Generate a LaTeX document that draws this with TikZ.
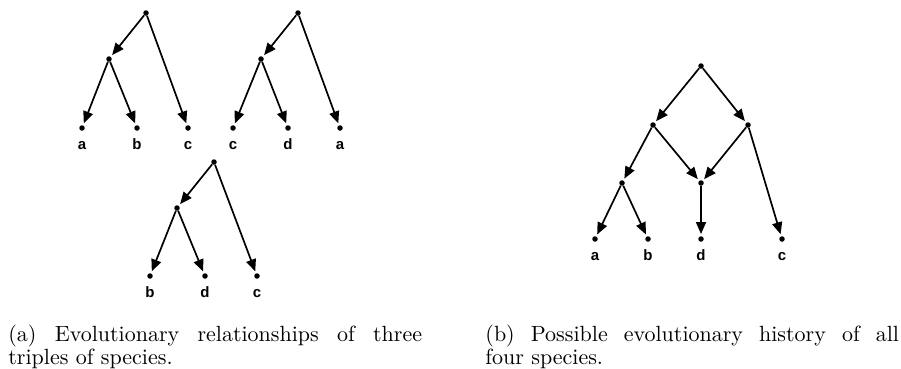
\documentclass[tikz,border=0pt]{standalone}
\usepackage{fontspec}
\newfontfamily\labelfont{Liberation Sans}
\usetikzlibrary{arrows.meta}
\begin{document}
\begin{tikzpicture}[x=1pt,y=-1pt,
  vtx/.style={circle,fill=black,inner sep=0pt,minimum size=5.5pt},
  edge/.style={line width=1.7pt,-{Triangle[length=12pt,width=10pt]},shorten >=2pt},
  leaflab/.style={font=\labelfont\bfseries\fontsize{15}{15}\selectfont,anchor=base},
  captext/.style={anchor=north west,inner sep=0pt,align=justify,text width=188pt,
    scale=2.2,transform shape,font=\fontsize{10}{10.45}\selectfont}]
\useasboundingbox (0,0) rectangle (901,368);

% first triple: ((a,b),c)
\node[vtx] (r1) at (146,13) {};
\node[vtx] (i1) at (109,59) {};
\node[vtx] (a1) at (82,128) {};
\node[vtx] (b1) at (137,128) {};
\node[vtx] (c1) at (188,128) {};
\draw[edge] (r1) -- (i1);
\draw[edge] (r1) -- (c1);
\draw[edge] (i1) -- (a1);
\draw[edge] (i1) -- (b1);
\node[leaflab] at (82,149) {a};
\node[leaflab] at (137,149) {b};
\node[leaflab] at (188,149) {c};

% second triple: ((c,d),a)
\node[vtx] (r2) at (298,13) {};
\node[vtx] (i2) at (261,59) {};
\node[vtx] (c2) at (233,128) {};
\node[vtx] (d2) at (288,128) {};
\node[vtx] (a2) at (340,128) {};
\draw[edge] (r2) -- (i2);
\draw[edge] (r2) -- (a2);
\draw[edge] (i2) -- (c2);
\draw[edge] (i2) -- (d2);
\node[leaflab] at (233,149) {c};
\node[leaflab] at (288,149) {d};
\node[leaflab] at (340,149) {a};

% third triple: ((b,d),c)
\node[vtx] (r3) at (214,162) {};
\node[vtx] (i3) at (177,208) {};
\node[vtx] (b3) at (150,276) {};
\node[vtx] (d3) at (205,276) {};
\node[vtx] (c3) at (257,276) {};
\draw[edge] (r3) -- (i3);
\draw[edge] (r3) -- (c3);
\draw[edge] (i3) -- (b3);
\draw[edge] (i3) -- (d3);
\node[leaflab] at (150,297) {b};
\node[leaflab] at (205,297) {d};
\node[leaflab] at (257,297) {c};

% network for all four species
\node[vtx] (rt) at (701,66) {};
\node[vtx] (lf) at (653,125) {};
\node[vtx] (rg) at (748,125) {};
\node[vtx] (ab) at (622,183) {};
\node[vtx] (hy) at (701,183) {};
\node[vtx] (la) at (595,239) {};
\node[vtx] (lb) at (648,239) {};
\node[vtx] (ld) at (701,239) {};
\node[vtx] (lc) at (782,239) {};
\draw[edge] (rt) -- (lf);
\draw[edge] (rt) -- (rg);
\draw[edge] (lf) -- (ab);
\draw[edge] (lf) -- (hy);
\draw[edge] (rg) -- (hy);
\draw[edge] (rg) -- (lc);
\draw[edge] (ab) -- (la);
\draw[edge] (ab) -- (lb);
\draw[edge] (hy) -- (ld);
\node[leaflab] at (595,260) {a};
\node[leaflab] at (648,260) {b};
\node[leaflab] at (701,260) {d};
\node[leaflab] at (782,260) {c};

% captions
\node[captext] (capa) at (8,324.5) {(a) Evolutionary relationships of three\linebreak triples of species.};
\node[captext] (capb) at (485,324.5) {(b) Possible evolutionary history of all\linebreak four species.};
\end{tikzpicture}
\end{document}
